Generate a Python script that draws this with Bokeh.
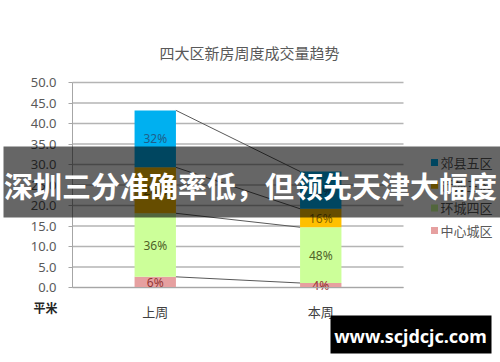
from bokeh.plotting import figure
from bokeh.models import (ColumnDataSource, Range1d, FixedTicker,
                          NumeralTickFormatter, Label, BoxAnnotation)
from bokeh.core.properties import value
from bokeh.embed import file_html
from bokeh.resources import INLINE

# ---------------- data ----------------
chart_title = "四大区新房周度成交量趋势"
categories = ["上周", "本周"]
series_names = ["中心城区", "环城四区", "近郊三区", "郊县五区"]
center_area = [2.6, 1.1]
ring_area = [15.5, 13.6]
near_area = [11.2, 4.5]
county_area = [13.9, 9.1]
pct_center = ["6%", "4%"]
pct_ring = ["36%", "48%"]
pct_near = ["26%", "16%"]
pct_county = ["32%", "32%"]
y_ticks = [0, 5, 10, 15, 20, 25, 30, 35, 40, 45, 50]
unit_label = "平米"
banner_text = "深圳三分准确率低，但领先天津大幅度"
watermark_text = "www.scjdcjc.com"

# ---------------- layout / styles ----------------
W, H = 500, 362
FL, FR, FT, FB = 72, 403, 82, 287          # plot-area box in canvas pixels
Y_MIN, Y_MAX = 0, 50
N = len(categories)
BAR_W = 0.25
fill_colors = ["#E6A0A0", "#CCFF99", "#FFC000", "#00B0F0"]
label_colors = ["#943634", "#4F6228", "#7F6000", "#1F5F8B"]
CJK = "Noto Sans CJK SC"
LEG_X, LEG_TOP, LEG_STEP = 434, 162, 22.7   # legend marker centre / first row / row step (px)

px_per_x = (FR - FL) / N
px_per_y = (FB - FT) / (Y_MAX - Y_MIN)
x_range = Range1d(-FL / px_per_x, (W - FL) / px_per_x)
y_range = Range1d(Y_MIN - (H - FB) / px_per_y, Y_MIN + FB / px_per_y)


def dx(px):
    return (px - FL) / px_per_x


def dy(py):
    return Y_MIN + (FB - py) / px_per_y


xs = [i + 0.5 for i in range(N)]
keys = ["center", "ring", "near", "county"]
series_vals = [center_area, ring_area, near_area, county_area]
series_pcts = [pct_center, pct_ring, pct_near, pct_county]

src = ColumnDataSource(dict(x=xs, center=center_area, ring=ring_area,
                            near=near_area, county=county_area))

p = figure(width=W, height=H, x_range=x_range, y_range=y_range,
           output_backend="svg", toolbar_location=None, min_border=0, title=None)
p.outline_line_color = None
p.background_fill_color = "white"

# grid lines drawn from the tick values across the plot area
grid_src = ColumnDataSource(dict(y=y_ticks, x0=[0] * len(y_ticks), x1=[N] * len(y_ticks)))
p.segment(x0="x0", x1="x1", y0="y", y1="y", source=grid_src,
          line_color="#B4B4B4", line_width=1.5)

renderers = p.vbar_stack(keys, x="x", width=BAR_W, fill_color=fill_colors,
                         line_color=None, source=src)

# percentage labels & connector lines
bottoms = [0.0] * N
lab_x, lab_y, lab_t, lab_c = [], [], [], []
seg_y0, seg_y1 = [], []
for vals, pcts, lc in zip(series_vals, series_pcts, label_colors):
    for i in range(N):
        lab_x.append(xs[i])
        lab_y.append(bottoms[i] + vals[i] / 2.0)
        lab_t.append(pcts[i])
        lab_c.append(lc)
    bottoms = [bottoms[i] + vals[i] for i in range(N)]
    seg_y0.append(bottoms[0])
    seg_y1.append(bottoms[1])

seg_src = ColumnDataSource(dict(x0=[xs[0] + BAR_W / 2] * 4, x1=[xs[1] - BAR_W / 2] * 4,
                                y0=seg_y0, y1=seg_y1))
p.segment(x0="x0", y0="y0", x1="x1", y1="y1",
          line_color="#595959", line_width=1, source=seg_src)

lab_src = ColumnDataSource(dict(x=lab_x, y=lab_y, t=lab_t, c=lab_c))
p.text(x="x", y="y", text="t", text_color="c", source=lab_src,
       text_align="center", text_baseline="middle", text_font_size="12px",
       text_font=value("Noto Sans"))

# legend (top entry = top of stack), drawn as glyphs so the banner covers it
order = list(reversed(range(len(series_names))))
leg_src = ColumnDataSource(dict(
    x=[dx(LEG_X)] * len(order),
    tx=[dx(LEG_X + 6)] * len(order),
    y=[dy(LEG_TOP + k * LEG_STEP) for k in range(len(order))],
    name=[series_names[i] for i in order],
    color=[fill_colors[i] for i in order]))
p.scatter(x="x", y="y", marker="square", size=7, fill_color="color",
          line_color=None, source=leg_src)
p.text(x="tx", y="y", text="name", source=leg_src, text_align="left",
       text_baseline="middle", text_font=value(CJK), text_font_size="13px",
       text_color="#595959")

# axes drawn inside the canvas at fixed locations
p.xgrid.grid_line_color = None
p.ygrid.grid_line_color = None

yax = p.yaxis[0]
yax.fixed_location = 0
yax.bounds = (Y_MIN, Y_MAX)
yax.ticker = FixedTicker(ticks=y_ticks)
yax.formatter = NumeralTickFormatter(format="0.0")
yax.axis_line_color = "#A6A6A6"
yax.major_tick_line_color = "#A6A6A6"
yax.major_tick_out = 4
yax.major_tick_in = 0
yax.minor_tick_line_color = None
yax.major_label_text_font_size = "13px"
yax.major_label_text_color = "#595959"
yax.major_label_text_font = "Noto Sans"
yax.major_label_standoff = 12

xax = p.xaxis[0]
xax.fixed_location = Y_MIN
xax.bounds = (0, N)
xax.ticker = FixedTicker(ticks=xs)
xax.major_label_overrides = {x: c for x, c in zip(xs, categories)}
xax.axis_line_color = "#A6A6A6"
xax.major_tick_line_color = None
xax.major_tick_out = 0
xax.major_tick_in = 0
xax.minor_tick_line_color = None
xax.major_label_text_font_size = "13px"
xax.major_label_text_color = "#404040"
xax.major_label_text_font = CJK
xax.major_label_standoff = 14

# title and unit label (screen px from canvas bottom-left)
p.add_layout(Label(x=249, y=H - 52, x_units="screen", y_units="screen", text=chart_title,
                   text_align="center", text_baseline="middle", text_font=CJK,
                   text_font_size="15px", text_color="#595959"))
p.add_layout(Label(x=45, y=H - 307, x_units="screen", y_units="screen", text=unit_label,
                   text_align="center", text_baseline="middle", text_font=CJK,
                   text_font_size="12px", text_font_style="bold", text_color="#262626"))

# overlay banner (drawn above everything)
p.add_layout(BoxAnnotation(left=3, right=W, top=H - 146, bottom=H - 217,
                           left_units="screen", right_units="screen",
                           top_units="screen", bottom_units="screen",
                           fill_color="black", fill_alpha=0.6, line_color=None,
                           level="overlay"))
p.add_layout(Label(x=250, y=H - 184, x_units="screen", y_units="screen", text=banner_text,
                   text_align="center", text_baseline="middle", text_font=CJK,
                   text_font_size="29px", text_font_style="bold", text_color="white",
                   level="overlay"))

# watermark
p.add_layout(BoxAnnotation(left=330, right=491, top=H - 315, bottom=H - 353,
                           left_units="screen", right_units="screen",
                           top_units="screen", bottom_units="screen",
                           fill_color="black", fill_alpha=1.0, line_color=None,
                           level="overlay"))
p.add_layout(Label(x=410, y=H - 335, x_units="screen", y_units="screen", text=watermark_text,
                   text_align="center", text_baseline="middle", text_font="Noto Sans",
                   text_font_size="18px", text_font_style="bold", text_color="white",
                   level="overlay"))

open("out.html", "w").write(file_html(p, INLINE))
